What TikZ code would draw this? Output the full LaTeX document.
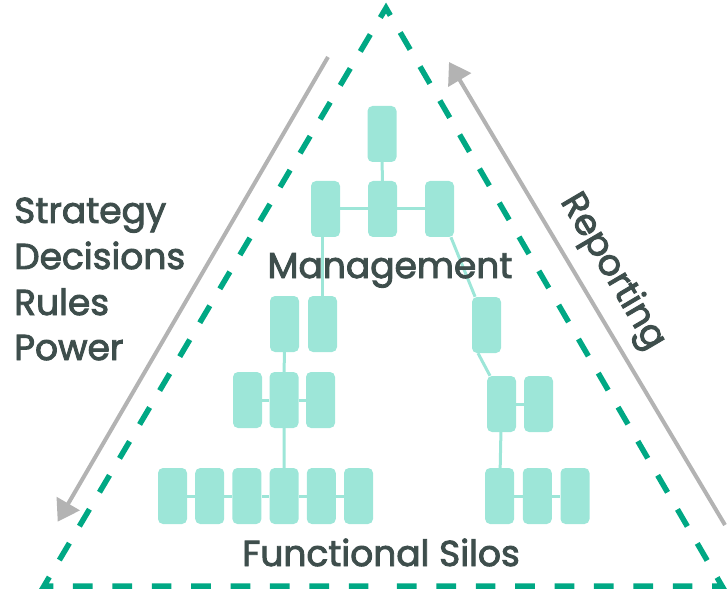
\documentclass[tikz,border=0pt]{standalone}
\usepackage{fontspec}
\setmainfont{Poppins}[FakeBold=2.5]
\usetikzlibrary{arrows.meta}
\definecolor{boxteal}{RGB}{157,230,216}
\definecolor{dashgreen}{RGB}{0,168,132}
\definecolor{arrowgray}{RGB}{179,179,179}
\definecolor{textgray}{RGB}{62,78,76}

\begin{document}
\begin{tikzpicture}[x=1pt,y=-1pt]
    \tikzstyle{box} = [rectangle, fill=boxteal, rounded corners=5pt, minimum width=29pt, minimum height=56pt, inner sep=0pt]
    \tikzstyle{link} = [draw=boxteal, line width=3pt]
    \tikzstyle{lbl} = [text=textgray, font=\fontsize{36}{40}\selectfont, inner sep=0pt]
    \tikzstyle{flow} = [draw=arrowgray, line width=4pt, -{Triangle[length=21pt,width=26pt]}]

    \useasboundingbox (0,0) rectangle (727,593);

    % dashed triangle
    \coordinate (apex) at (386,8);
    \coordinate (bl) at (44,586);
    \coordinate (br) at (722,586);
    \coordinate (bm) at (383,586);
    \draw[dashgreen, line width=5.5pt, dash pattern=on 19.7pt off 19.7pt, dash phase=25.45pt, line join=miter]
        (bm) -- (br) -- (apex) -- (bl) -- cycle;

    % gray arrows
    \coordinate (downstart) at (328,57);
    \coordinate (downend) at (57.7,521.7);
    \coordinate (upstart) at (725,525);
    \coordinate (upend) at (449,62);
    \draw[flow] (downstart) -- (downend);
    \draw[flow] (upstart) -- (upend);

    % boxes
    \node[box] (1) at (382,134) {};

    \matrix[nodes={box}, column sep=28pt] at (382.5,209) {
    \node (2) {}; &
    \node (3) {}; &
    \node (4) {}; \\
    };

    \matrix[nodes={box}, column sep=9pt] at (303.5,324) {
    \node (5) {}; &
    \node (6) {}; \\
    };

    \node[box] (7) at (486.5,325) {};

    \matrix[nodes={box}, column sep=7.5pt] at (284,400) {
    \node (8) {}; &
    \node (9) {}; &
    \node (10) {}; \\
    };

    \matrix[nodes={box}, column sep=8pt] at (520,404) {
    \node (11) {}; &
    \node (12) {}; \\
    };

    \matrix[nodes={box}, column sep=8.2pt] at (265.5,496) {
    \node (13) {}; &
    \node (14) {}; &
    \node (15) {}; &
    \node (16) {}; &
    \node (17) {}; &
    \node (18) {}; \\
    };

    \matrix[nodes={box}, column sep=8.7pt] at (537.3,496) {
    \node (19) {}; &
    \node (20) {}; &
    \node (21) {}; \\
    };

    % links
    \draw[link]  (1) edge node{} (3);
    \draw[link]  (2) edge node{} (3);
    \draw[link]  (3) edge node{} (4);
    \draw[link]  (6) edge node{} (6 |- 2.south);
    \draw[link]  (4) edge node{} (7);
    \draw[link]  ([xshift=-8.5pt]7.south) edge node{} ([xshift=-11.5pt]11.north);

    \draw[link]  (5) edge node{} (9);
    \draw[link]  (8) edge node{} (9);
    \draw[link]  (9) edge node{} (10);
    \draw[link]  (11) edge node{} (12);

    \draw[link]  (9) edge node{} (16);
    \draw[link]  (13) edge node{} (14);
    \draw[link]  (14) edge node{} (15);
    \draw[link]  (15) edge node{} (16);
    \draw[link]  (16) edge node{} (17);
    \draw[link]  (17) edge node{} (18);

    \draw[link]  (11) edge node{} (19);
    \draw[link]  (19) edge node{} (20);
    \draw[link]  (20) edge node{} (21);

    % labels
    \node[lbl, anchor=base west] (strategy) at (14,223) {Strategy};
    \node[lbl, anchor=base west] (decisions) at (14,269) {Decisions};
    \node[lbl, anchor=base west] (rules) at (14,315) {Rules};
    \node[lbl, anchor=base west] (power) at (14,360) {Power};
    \node[lbl, anchor=base] (management) at (390,278) {Management};
    \node[lbl, anchor=base] (silos) at (381,566) {Functional Silos};
    \node[lbl, rotate=-59.5] (reporting) at (612,272) {Reporting};

\end{tikzpicture}
\end{document}
